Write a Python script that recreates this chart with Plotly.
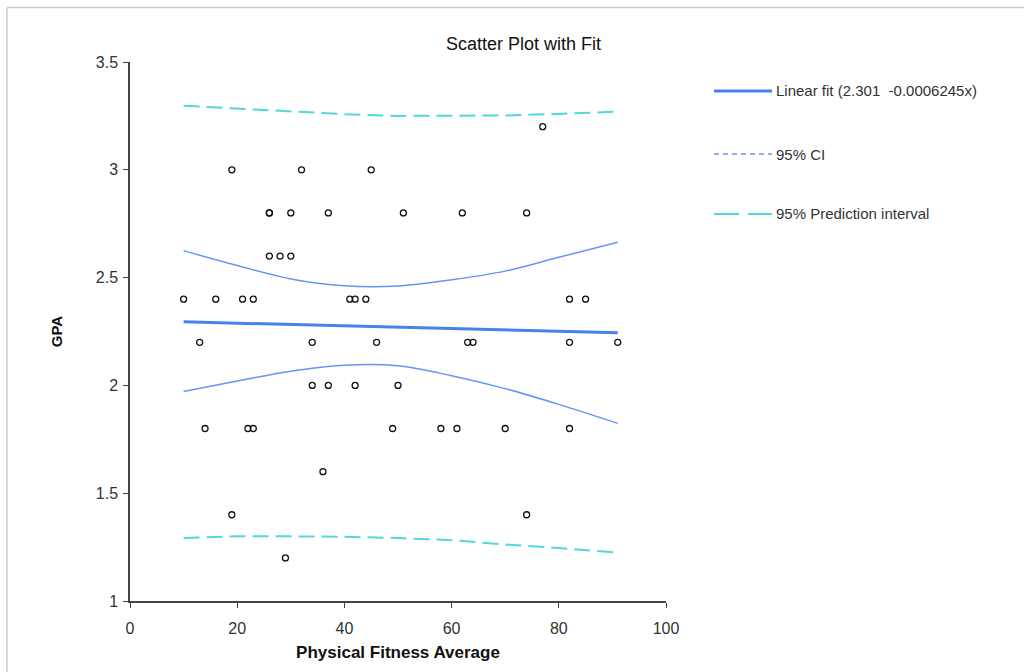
import plotly.graph_objects as go

# Observations: physical fitness average vs. GPA
fitness = [77,
           19, 32, 45,
           26, 26, 30, 37, 51, 62, 74,
           26, 28, 30,
           10, 16, 21, 23, 41, 42, 44, 82, 85,
           13, 34, 46, 63, 64, 82, 91,
           34, 37, 42, 50,
           14, 22, 23, 49, 58, 61, 70, 82,
           36,
           19, 74,
           29]
gpa = [3.2,
       3.0, 3.0, 3.0,
       2.8, 2.8, 2.8, 2.8, 2.8, 2.8, 2.8,
       2.6, 2.6, 2.6,
       2.4, 2.4, 2.4, 2.4, 2.4, 2.4, 2.4, 2.4, 2.4,
       2.2, 2.2, 2.2, 2.2, 2.2, 2.2, 2.2,
       2.0, 2.0, 2.0, 2.0,
       1.8, 1.8, 1.8, 1.8, 1.8, 1.8, 1.8, 1.8,
       1.6,
       1.4, 1.4,
       1.2]

# Linear fit coefficients
intercept = 2.301
slope = -0.0006245

# Confidence / prediction bands
band_x = [10, 20, 30, 40, 50, 60, 70, 80, 91]
ci_upper = [2.625, 2.556, 2.494, 2.462, 2.461, 2.490, 2.530, 2.594, 2.664]
ci_lower = [1.972, 2.020, 2.066, 2.094, 2.091, 2.045, 1.985, 1.912, 1.824]
pi_upper = [3.297, 3.285, 3.270, 3.258, 3.250, 3.250, 3.252, 3.259, 3.270]
pi_lower = [1.292, 1.300, 1.300, 1.298, 1.292, 1.282, 1.262, 1.246, 1.224]

x_ticks = [0, 20, 40, 60, 80, 100]
y_ticks = [1, 1.5, 2, 2.5, 3, 3.5]

FIT_COLOR = "#4383f0"
CI_COLOR = "#6495f7"
PI_COLOR = "#52d8da"
FONT = "Liberation Sans, Arial, sans-serif"

fit_x = [min(fitness), max(fitness)]
fit_y = [intercept + slope * v for v in fit_x]

fig = go.Figure()

pi_dash = "16px,7px"
fig.add_trace(go.Scatter(x=band_x, y=pi_upper, mode="lines",
                         line=dict(color=PI_COLOR, width=2, dash=pi_dash),
                         hoverinfo="skip"))
fig.add_trace(go.Scatter(x=band_x, y=pi_lower, mode="lines",
                         line=dict(color=PI_COLOR, width=2, dash=pi_dash),
                         hoverinfo="skip"))
fig.add_trace(go.Scatter(x=band_x, y=ci_upper, mode="lines",
                         line=dict(color=CI_COLOR, width=1.5, shape="spline"),
                         hoverinfo="skip"))
fig.add_trace(go.Scatter(x=band_x, y=ci_lower, mode="lines",
                         line=dict(color=CI_COLOR, width=1.5, shape="spline"),
                         hoverinfo="skip"))
fig.add_trace(go.Scatter(x=fit_x, y=fit_y, mode="lines",
                         line=dict(color=FIT_COLOR, width=3)))
fig.add_trace(go.Scatter(x=fitness, y=gpa, mode="markers",
                         marker=dict(symbol="circle-open", size=6, color="#111111",
                                     line=dict(width=1.3, color="#111111"))))

# Legend drawn to the right of the plot area
legend_items = [
    (f"Linear fit ({intercept}&nbsp; {slope}x)", FIT_COLOR, 3, "solid", 0.9462),
    ("95% CI", CI_COLOR, 1.5, "5px,4px", 0.8293),
    ("95% Prediction interval", PI_COLOR, 2, "25px,9px", 0.7180),
]
shapes = []
annotations = []
for label, color, width, dash, ypos in legend_items:
    shapes.append(dict(type="line", xref="paper", yref="paper",
                       x0=1.0896, x1=1.1978, y0=ypos, y1=ypos,
                       line=dict(color=color, width=width, dash=dash)))
    annotations.append(dict(xref="paper", yref="paper", x=1.2015, y=ypos,
                            text=label, showarrow=False, xanchor="left",
                            yanchor="middle",
                            font=dict(family=FONT, size=15, color="#333333")))

# Chart title
annotations.append(dict(xref="paper", yref="paper", x=0.735, y=1.034,
                        text="Scatter Plot with Fit", showarrow=False,
                        xanchor="center", yanchor="middle",
                        font=dict(family=FONT, size=18, color="#111111")))

# Outer frame lines (top and left)
shapes.append(dict(type="line", xref="paper", yref="paper",
                   x0=-0.2295, x1=2.0, y0=1.1011, y1=1.1011,
                   line=dict(color="#cccccc", width=1.5)))
shapes.append(dict(type="line", xref="paper", yref="paper",
                   x0=-0.2295, x1=-0.2295, y0=1.1011, y1=-0.2,
                   line=dict(color="#cccccc", width=1.5)))

fig.update_layout(
    width=1024, height=672,
    margin=dict(l=130, r=358, t=62, b=71),
    paper_bgcolor="white", plot_bgcolor="white",
    showlegend=False,
    shapes=shapes,
    annotations=annotations,
    xaxis=dict(range=[0, 100], tickvals=x_ticks, showgrid=False, zeroline=False,
               showline=True, linecolor="#444444", linewidth=1.5,
               ticks="outside", ticklen=5, tickcolor="#444444",
               ticklabelstandoff=7,
               tickfont=dict(family=FONT, size=16, color="#333333"),
               title=dict(text="<b>Physical Fitness Average</b>", standoff=10,
                          font=dict(family=FONT, size=17, color="#111111"))),
    yaxis=dict(range=[1, 3.5], tickvals=y_ticks, showgrid=False, zeroline=False,
               showline=True, linecolor="#444444", linewidth=1.5,
               ticks="outside", ticklen=5, tickcolor="#444444",
               ticklabelstandoff=2,
               tickfont=dict(family=FONT, size=16, color="#333333"),
               title=dict(text="<b>GPA</b>", standoff=30,
                          font=dict(family=FONT, size=15, color="#111111"))),
)

fig.write_html("out.html")
